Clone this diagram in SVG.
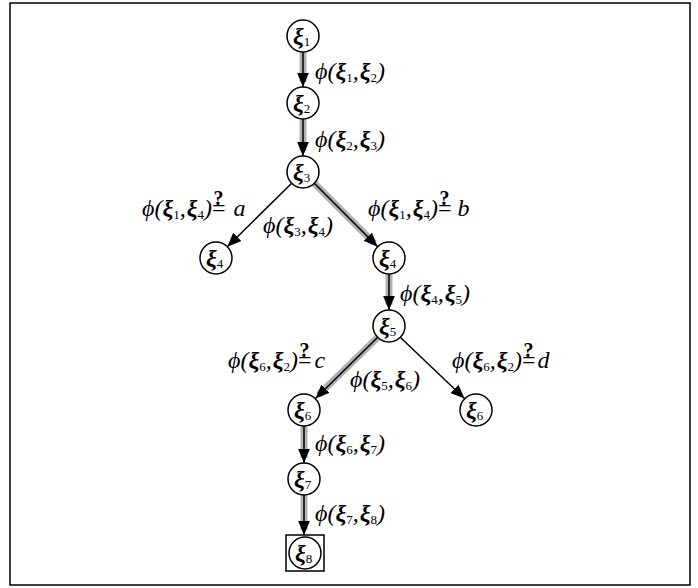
<svg xmlns="http://www.w3.org/2000/svg" width="698" height="588" viewBox="0 0 698 588">
<defs>
<marker id="ah" markerUnits="userSpaceOnUse" markerWidth="14" markerHeight="12" refX="12" refY="5" orient="auto" viewBox="0 0 12 10">
<path d="M0,0 L12,5 L0,10 Z" fill="#000"/>
</marker>
</defs>
<style>
.frame{fill:#fff;stroke:#000;stroke-width:1.5}
.node{fill:#fff;stroke:#000;stroke-width:1.5}
.halo{stroke:#b0b0b0;stroke-width:7;fill:none;stroke-linecap:butt}
.edge{stroke:#000;stroke-width:1.5;fill:none}
.t{font-family:"Liberation Serif","DejaVu Serif",serif;font-style:italic;font-size:24px;fill:#000}
.x{font-weight:bold}
.s{font-style:normal;font-size:13px;font-weight:normal}
.n{font-family:"Liberation Serif","DejaVu Serif",serif;font-style:italic;font-weight:bold;font-size:24px;fill:#000}
.q{font-weight:bold;font-size:20px;font-style:normal}
.e{font-style:normal}
</style>
<rect class="frame" x="10" y="3" width="680" height="582"/>
<g id="connectors">
<line class="halo" x1="303" y1="52" x2="303" y2="82"/>
<line class="edge" x1="303" y1="52" x2="303" y2="87" marker-end="url(#ah)"/>
<line class="halo" x1="303" y1="119" x2="303" y2="151"/>
<line class="edge" x1="303" y1="119" x2="303" y2="156" marker-end="url(#ah)"/>
<line class="edge" x1="291.7" y1="183.3" x2="227.3" y2="246.7" marker-end="url(#ah)"/>
<line class="halo" x1="314.3" y1="183.3" x2="374" y2="243"/>
<line class="edge" x1="314.3" y1="183.3" x2="377.7" y2="246.7" marker-end="url(#ah)"/>
<line class="halo" x1="389" y1="274" x2="389" y2="305"/>
<line class="edge" x1="389" y1="274" x2="389" y2="310" marker-end="url(#ah)"/>
<line class="halo" x1="377.5" y1="337.5" x2="318.5" y2="395"/>
<line class="edge" x1="377.5" y1="337.5" x2="315.5" y2="398.5" marker-end="url(#ah)"/>
<line class="edge" x1="400.5" y1="337.5" x2="464.5" y2="398.5" marker-end="url(#ah)"/>
<line class="halo" x1="304" y1="426" x2="304" y2="458"/>
<line class="edge" x1="304" y1="426" x2="304" y2="463" marker-end="url(#ah)"/>
<line class="halo" x1="304" y1="495" x2="304" y2="530"/>
<line class="edge" x1="304" y1="495" x2="304" y2="535" marker-end="url(#ah)"/>
</g>
<g id="n1"><circle class="node" cx="303" cy="36" r="16"/><text class="n" x="293" y="44">ξ<tspan class="s" dy="2">1</tspan></text></g>
<g id="n2"><circle class="node" cx="303" cy="103" r="16"/><text class="n" x="293" y="111">ξ<tspan class="s" dy="2">2</tspan></text></g>
<g id="n3"><circle class="node" cx="303" cy="172" r="16"/><text class="n" x="293" y="180">ξ<tspan class="s" dy="2">3</tspan></text></g>
<g id="n4a"><circle class="node" cx="216" cy="258" r="16"/><text class="n" x="206" y="266">ξ<tspan class="s" dy="2">4</tspan></text></g>
<g id="n4b"><circle class="node" cx="389" cy="258" r="16"/><text class="n" x="379" y="266">ξ<tspan class="s" dy="2">4</tspan></text></g>
<g id="n5"><circle class="node" cx="389" cy="326" r="16"/><text class="n" x="379" y="334">ξ<tspan class="s" dy="2">5</tspan></text></g>
<g id="n6a"><circle class="node" cx="304" cy="410" r="16"/><text class="n" x="294" y="418">ξ<tspan class="s" dy="2">6</tspan></text></g>
<g id="n6b"><circle class="node" cx="476" cy="410" r="16"/><text class="n" x="466" y="418">ξ<tspan class="s" dy="2">6</tspan></text></g>
<g id="n7"><circle class="node" cx="304" cy="479" r="16"/><text class="n" x="294" y="487">ξ<tspan class="s" dy="2">7</tspan></text></g>
<g id="n8"><rect class="node" x="286" y="535" width="38" height="36" fill="none"/><circle class="node" cx="305" cy="553" r="16"/><text class="n" x="295" y="561">ξ<tspan class="s" dy="2">8</tspan></text></g>
<g id="labels">
<text class="t" x="315" y="79">ϕ(<tspan class="x">ξ</tspan><tspan class="s" dy="3">1</tspan><tspan dy="-3">,</tspan><tspan class="x" dx="1">ξ</tspan><tspan class="s" dy="3">2</tspan><tspan dy="-3">)</tspan></text>
<text class="t" x="315" y="147">ϕ(<tspan class="x">ξ</tspan><tspan class="s" dy="3">2</tspan><tspan dy="-3">,</tspan><tspan class="x" dx="1">ξ</tspan><tspan class="s" dy="3">3</tspan><tspan dy="-3">)</tspan></text>
<text class="t" x="142" y="216">ϕ(<tspan class="x">ξ</tspan><tspan class="s" dy="3">1</tspan><tspan dy="-3">,</tspan><tspan class="x" dx="1">ξ</tspan><tspan class="s" dy="3">4</tspan><tspan dy="-3">)</tspan><tspan class="e">=</tspan><tspan class="q" dx="-12" dy="-11">?</tspan><tspan dx="10" dy="11">a</tspan></text>
<text class="t" x="263" y="233">ϕ(<tspan class="x">ξ</tspan><tspan class="s" dy="3">3</tspan><tspan dy="-3">,</tspan><tspan class="x" dx="1">ξ</tspan><tspan class="s" dy="3">4</tspan><tspan dy="-3">)</tspan></text>
<text class="t" x="368" y="216">ϕ(<tspan class="x">ξ</tspan><tspan class="s" dy="3">1</tspan><tspan dy="-3">,</tspan><tspan class="x" dx="1">ξ</tspan><tspan class="s" dy="3">4</tspan><tspan dy="-3">)</tspan><tspan class="e">=</tspan><tspan class="q" dx="-12" dy="-11">?</tspan><tspan dx="8" dy="11">b</tspan></text>
<text class="t" x="400" y="301">ϕ(<tspan class="x">ξ</tspan><tspan class="s" dy="3">4</tspan><tspan dy="-3">,</tspan><tspan class="x" dx="1">ξ</tspan><tspan class="s" dy="3">5</tspan><tspan dy="-3">)</tspan></text>
<text class="t" x="228" y="368">ϕ(<tspan class="x">ξ</tspan><tspan class="s" dy="3">6</tspan><tspan dy="-3">,</tspan><tspan class="x" dx="1">ξ</tspan><tspan class="s" dy="3">2</tspan><tspan dy="-3">)</tspan><tspan class="e">=</tspan><tspan class="q" dx="-12" dy="-11">?</tspan><tspan dx="5" dy="11">c</tspan></text>
<text class="t" x="350" y="387">ϕ(<tspan class="x">ξ</tspan><tspan class="s" dy="3">5</tspan><tspan dy="-3">,</tspan><tspan class="x" dx="1">ξ</tspan><tspan class="s" dy="3">6</tspan><tspan dy="-3">)</tspan></text>
<text class="t" x="452" y="368">ϕ(<tspan class="x">ξ</tspan><tspan class="s" dy="3">6</tspan><tspan dy="-3">,</tspan><tspan class="x" dx="1">ξ</tspan><tspan class="s" dy="3">2</tspan><tspan dy="-3">)</tspan><tspan class="e">=</tspan><tspan class="q" dx="-12" dy="-11">?</tspan><tspan dx="4" dy="11">d</tspan></text>
<text class="t" x="315" y="451">ϕ(<tspan class="x">ξ</tspan><tspan class="s" dy="3">6</tspan><tspan dy="-3">,</tspan><tspan class="x" dx="1">ξ</tspan><tspan class="s" dy="3">7</tspan><tspan dy="-3">)</tspan></text>
<text class="t" x="315" y="521">ϕ(<tspan class="x">ξ</tspan><tspan class="s" dy="3">7</tspan><tspan dy="-3">,</tspan><tspan class="x" dx="1">ξ</tspan><tspan class="s" dy="3">8</tspan><tspan dy="-3">)</tspan></text>
</g>
</svg>
